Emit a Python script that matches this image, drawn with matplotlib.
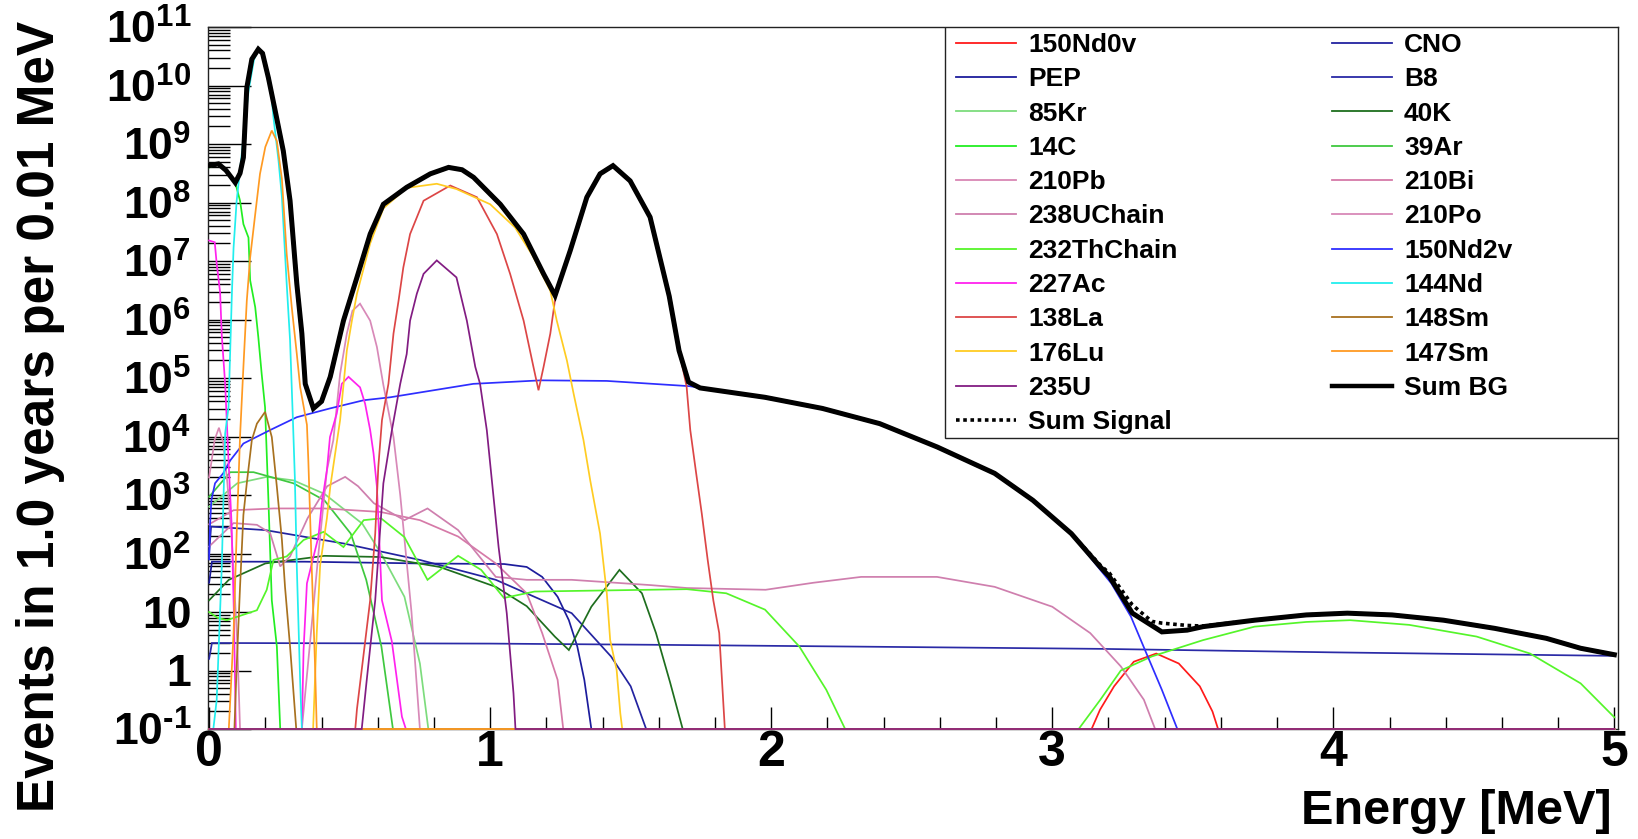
import numpy as np
import matplotlib
matplotlib.use("Agg")
import matplotlib.pyplot as plt
from matplotlib.ticker import FixedLocator, FixedFormatter, LogLocator, MultipleLocator, NullFormatter
from matplotlib.lines import Line2D
from matplotlib.patches import Rectangle

plt.rcParams['font.family'] = ['Liberation Sans', 'DejaVu Sans']
plt.rcParams['font.weight'] = 'bold'
plt.rcParams['mathtext.fontset'] = 'custom'
plt.rcParams['mathtext.rm'] = 'Liberation Sans:bold'
plt.rcParams['mathtext.it'] = 'Liberation Sans:bold'
plt.rcParams['mathtext.bf'] = 'Liberation Sans:bold'

# ---------------- data (energy in MeV, log10 of events per 0.01 MeV) ----------------
nd0v_E = [0, 3.14, 3.17, 3.22, 3.29, 3.37, 3.45, 3.525, 3.57, 3.59, 5.0]
nd0v_L = [-1, -1, -0.67, -0.27, 0.15, 0.29, 0.12, -0.27, -0.7, -1, -1]

cno_E = [0, 0.007, 0.2, 0.48, 0.75, 1.02, 1.29, 1.43, 1.5, 1.555, 5.0]
cno_L = [2.0, 2.46, 2.4, 2.17, 1.89, 1.55, 0.98, 0.24, -0.27, -1, -1]

pep_E = [0, 0.01, 0.34, 0.75, 1.05, 1.13, 1.185, 1.24, 1.28, 1.31, 1.335, 1.36, 5.0]
pep_L = [1.5, 1.86, 1.86, 1.83, 1.82, 1.77, 1.6, 1.26, 0.86, 0.41, -0.16, -1, -1]

b8_E = [0, 0.01, 1.0, 1.57, 2.5, 3.17, 4.0, 5.0]
b8_L = [0.2, 0.47, 0.46, 0.44, 0.40, 0.37, 0.31, 0.25]

kr85_E = [0, 0.1, 0.205, 0.3, 0.41, 0.545, 0.613, 0.695, 0.75, 0.78, 5.0]
kr85_L = [2.8, 3.2, 3.31, 3.25, 3.02, 2.51, 1.99, 1.26, 0.12, -1, -1]

k40_E = [0, 0.07, 0.2, 0.41, 0.61, 0.82, 1.02, 1.13, 1.23, 1.28, 1.36, 1.46, 1.54, 1.59, 1.64, 1.685, 5.0]
k40_L = [1.2, 1.55, 1.83, 1.96, 1.94, 1.77, 1.43, 1.1, 0.58, 0.35, 1.09, 1.72, 1.32, 0.64, -0.2, -1, -1]

c14_E = [0, 0.033, 0.06, 0.093, 0.11, 0.122, 0.14, 0.146, 0.164, 0.175, 0.187, 0.199, 0.211, 0.223, 0.241, 0.253, 5.0]
c14_L = [8.6, 8.66, 8.55, 8.34, 8.03, 7.63, 7.4, 6.67, 6.21, 5.70, 5.07, 4.5, 2.91, 1.2, 0.41, -1, -1]

ar39_E = [0, 0.075, 0.158, 0.3, 0.41, 0.504, 0.559, 0.613, 0.654, 5.0]
ar39_L = [2.97, 3.39, 3.39, 3.2, 2.91, 2.34, 1.55, 0.41, -1, -1]

pb210_E = [0, 0.02, 0.035, 0.05, 0.065, 0.08, 0.1, 0.11, 5.0]
pb210_L = [3.3, 3.95, 4.15, 3.9, 3.2, 2.3, 0.5, -1, -1]

bi210_E = [0, 0.087, 0.23, 0.41, 0.61, 0.75, 0.886, 1.02, 1.13, 1.185, 1.24, 1.26, 5.0]
bi210_L = [2.5, 2.74, 2.77, 2.77, 2.71, 2.57, 2.29, 1.83, 1.32, 0.64, -0.16, -1, -1]

u238_E = [0, 0.087, 0.17, 0.217, 0.253, 0.288, 0.35, 0.42, 0.484, 0.53, 0.586, 0.695, 0.777,
          0.886, 1.02, 1.13, 1.29, 1.57, 1.7, 1.98, 2.15, 2.32, 2.59, 2.795, 3.0, 3.135,
          3.244, 3.326, 3.366, 5.0]
u238_L = [2.12, 2.52, 2.49, 2.35, 1.78, 1.95, 2.6, 3.15, 3.31, 3.15, 2.86, 2.57, 2.77,
          2.40, 1.6, 1.55, 1.55, 1.46, 1.41, 1.38, 1.5, 1.6, 1.6, 1.43, 1.09, 0.64,
          0.07, -0.5, -1, -1]

po210_E = [0, 0.33, 0.389, 0.419, 0.442, 0.466, 0.49, 0.51, 0.537, 0.573, 0.597, 0.62, 0.656, 0.68, 0.72, 0.75, 5.0]
po210_L = [-1, -1, 2.0, 3.42, 3.94, 5.07, 5.76, 6.15, 6.27, 5.98, 5.53, 4.88, 3.99, 3.0, 1.0, -1, -1]

th232_E = [0, 0.03, 0.063, 0.17, 0.205, 0.229, 0.276, 0.336, 0.407, 0.478, 0.55, 0.612, 0.695,
           0.777, 0.886, 0.968, 1.049, 1.158, 1.294, 1.7, 1.84, 1.978, 2.1, 2.196, 2.263,
           3.094, 3.171, 3.244, 3.354, 3.537, 3.72, 3.904, 4.06, 4.27, 4.51, 4.7, 4.88, 5.0]
th232_L = [1.0, 0.9, 0.86, 1.03, 1.38, 1.89, 1.95, 2.23, 2.37, 2.11, 2.57, 2.6, 2.28,
           1.55, 1.96, 1.72, 1.24, 1.35, 1.36, 1.39, 1.32, 1.04, 0.41, -0.33, -1,
           -1, -0.5, 0.0, 0.24, 0.52, 0.75, 0.83, 0.86, 0.78, 0.58, 0.29, -0.22, -0.8]

nd2v_E = [0, 0.003, 0.008, 0.021, 0.05, 0.075, 0.122, 0.217, 0.312, 0.43, 0.55, 0.644, 0.94,
          1.18, 1.415, 1.71, 1.978, 2.182, 2.386, 2.591, 2.795, 2.931, 3.068, 3.171, 3.21,
          3.28, 3.33, 3.39, 3.445, 5.0]
nd2v_L = [1.9, 2.46, 2.91, 3.2, 3.37, 3.59, 3.88, 4.11, 4.33, 4.48, 4.62, 4.67, 4.90,
          4.96, 4.95, 4.86, 4.66, 4.47, 4.21, 3.81, 3.36, 2.90, 2.33, 1.72, 1.49,
          0.92, 0.35, -0.33, -1, -1]

ac227_E = [0, 0.02, 0.027, 0.039, 0.045, 0.057, 0.069, 0.08, 0.088, 0.095, 0.33, 0.336, 0.348,
           0.389, 0.401, 0.419, 0.43, 0.454, 0.472, 0.496, 0.537, 0.555, 0.573, 0.585, 0.597,
           0.615, 0.65, 0.686, 0.7, 5.0]
ac227_L = [7.35, 7.32, 6.95, 6.47, 5.73, 4.9, 3.59, 2.5, 1.0, -1, -1, 0.35, 1.49,
           2.29, 2.86, 3.42, 3.99, 4.39, 4.90, 5.02, 4.84, 4.56, 4.11, 3.71, 3.14,
           1.2, 0.5, -0.79, -1, -1]

nd144_E = [0, 0.015, 0.027, 0.045, 0.051, 0.057, 0.069, 0.075, 0.081, 0.087, 0.098, 0.116, 0.14,
           0.16, 0.175, 0.19, 0.217, 0.229, 0.247, 0.259, 0.276, 0.288, 0.298, 0.305, 0.312,
           0.324, 0.33, 5.0]
nd144_L = [-1, -1, -0.5, 1.77, 2.91, 4.05, 4.5, 5.47, 6.44, 7.23, 8.03, 8.83, 9.9,
           10.45, 10.6, 10.55, 10.08, 9.45, 8.71, 8.09, 6.61, 5.64, 4.3, 3.3, 1.77,
           -0.2, -1, -1]

sm148_E = [0, 0.09, 0.098, 0.11, 0.122, 0.134, 0.152, 0.17, 0.199, 0.223, 0.241, 0.259, 0.27, 0.288, 0.31, 5.0]
sm148_L = [-1, -1, 0.07, 1.43, 2.66, 3.2, 3.94, 4.22, 4.42, 3.99, 3.14, 2.23, 1.43, 0.41, -1, -1]

la138_E = [0, 0.52, 0.526, 0.573, 0.591, 0.602, 0.615, 0.638, 0.656, 0.674, 0.691, 0.715, 0.763,
           0.858, 0.953, 1.024, 1.071, 1.119, 1.154, 1.172, 1.19, 1.214, 1.237, 1.285, 1.344,
           1.391, 1.437, 1.498, 1.569, 1.637, 1.665, 1.699, 1.712, 1.733, 1.753, 1.774, 1.794,
           1.815, 1.835, 5.0]
la138_L = [-1, -1, -0.66, 1.2, 2.34, 3.48, 4.28, 4.90, 5.76, 6.32, 6.89, 7.46, 8.03,
           8.29, 8.09, 7.46, 6.78, 5.98, 5.19, 4.79, 5.19, 5.76, 6.55, 7.15, 8.07,
           8.47, 8.61, 8.35, 7.73, 6.38, 5.64, 4.85, 4.11, 3.37, 2.68, 1.89, 1.2,
           0.64, -1, -1]

lu176_E = [0, 0.37, 0.383, 0.395, 0.419, 0.431, 0.466, 0.49, 0.508, 0.526, 0.573, 0.62, 0.703,
           0.81, 0.88, 1.0, 1.089, 1.15, 1.214, 1.237, 1.273, 1.297, 1.332, 1.356, 1.391,
           1.415, 1.427, 1.45, 1.463, 1.47, 5.0]
lu176_L = [-1, -1, 0.64, 1.8, 2.6, 3.14, 4.28, 5.47, 5.98, 6.44, 7.3, 7.9, 8.25,
           8.32, 8.23, 7.97, 7.57, 7.1, 6.49, 5.98, 5.30, 4.73, 3.94, 3.25, 2.34,
           1.32, 0.52, 0.01, -0.73, -1, -1]

sm147_E = [0, 0.07, 0.087, 0.098, 0.11, 0.122, 0.134, 0.146, 0.164, 0.181, 0.2, 0.223, 0.241,
           0.259, 0.276, 0.294, 0.312, 0.324, 0.348, 0.353, 0.365, 0.377, 0.383, 5.0]
sm147_L = [-1, -1, 0.64, 2.34, 4.0, 5.19, 6.32, 7.06, 7.80, 8.49, 8.95, 9.23, 9.05,
           8.4, 7.12, 6.21, 5.41, 4.84, 4.2, 3.59, 1.77, 0.07, -1, -1]

u235_E = [0, 0.543, 0.56, 0.591, 0.62, 0.65, 0.68, 0.703, 0.715, 0.739, 0.763, 0.81, 0.88,
          0.917, 0.947, 0.964, 0.988, 1.006, 1.03, 1.059, 1.083, 1.09, 5.0]
u235_L = [-1, -1, -0.2, 1.2, 3.2, 4.1, 4.90, 5.41, 5.98, 6.44, 6.78, 7.01, 6.72,
          5.98, 5.19, 4.9, 4.11, 3.25, 2.11, 0.98, -0.39, -1, -1]

sumbg_E = [0.0, 0.033, 0.06, 0.093, 0.11, 0.122, 0.134, 0.152, 0.175, 0.19, 0.211, 0.235, 0.264,
           0.288, 0.312, 0.330, 0.342, 0.371, 0.40, 0.431, 0.478, 0.526, 0.573, 0.620, 0.703,
           0.787, 0.852, 0.9, 0.941, 1.036, 1.119, 1.19, 1.231, 1.285, 1.344, 1.391, 1.437,
           1.498, 1.569, 1.637, 1.672, 1.706, 1.747, 1.978, 2.182, 2.386, 2.591, 2.795, 2.931,
           3.068, 3.171, 3.204, 3.285, 3.39, 3.48, 3.537, 3.72, 3.904, 4.05, 4.209, 4.392,
           4.575, 4.758, 4.88, 5.0]
sumbg_L = [8.63, 8.66, 8.55, 8.34, 8.5, 8.77, 9.96, 10.45, 10.62, 10.55, 10.13, 9.57, 8.88,
           8.03, 6.61, 5.76, 4.9, 4.48, 4.6, 5.02, 5.98, 6.72, 7.46, 7.97, 8.26,
           8.49, 8.60, 8.56, 8.43, 7.97, 7.46, 6.78, 6.41, 7.18, 8.09, 8.49, 8.63,
           8.37, 7.75, 6.4, 5.47, 4.93, 4.83, 4.67, 4.48, 4.22, 3.82, 3.37, 2.91,
           2.34, 1.77, 1.60, 0.98, 0.66, 0.69, 0.75, 0.86, 0.95, 0.98, 0.95, 0.86,
           0.72, 0.55, 0.38, 0.27]

sumsig_E = [0.0, 0.033, 0.06, 0.093, 0.11, 0.122, 0.134, 0.152, 0.175, 0.19, 0.211, 0.235, 0.264,
            0.288, 0.312, 0.330, 0.342, 0.371, 0.40, 0.431, 0.478, 0.526, 0.573, 0.620, 0.703,
            0.787, 0.852, 0.9, 0.941, 1.036, 1.119, 1.19, 1.231, 1.285, 1.344, 1.391, 1.437,
            1.498, 1.569, 1.637, 1.672, 1.706, 1.747, 1.978, 2.182, 2.386, 2.591, 2.795, 2.931,
            3.068, 3.171, 3.204, 3.285, 3.354, 3.39, 3.48, 3.537, 3.72, 3.904, 4.05, 4.209, 4.392,
            4.575, 4.758, 4.88, 5.0]
sumsig_L = [8.63, 8.66, 8.55, 8.34, 8.5, 8.77, 9.96, 10.45, 10.62, 10.55, 10.13, 9.57, 8.88,
            8.03, 6.61, 5.76, 4.9, 4.48, 4.6, 5.02, 5.98, 6.72, 7.46, 7.97, 8.26,
            8.49, 8.60, 8.56, 8.43, 7.97, 7.46, 6.78, 6.41, 7.18, 8.09, 8.49, 8.63,
            8.37, 7.75, 6.4, 5.47, 4.93, 4.83, 4.67, 4.48, 4.22, 3.82, 3.37, 2.91,
            2.34, 1.8, 1.66, 1.12, 0.84, 0.81, 0.77, 0.76, 0.86, 0.95, 0.98, 0.95, 0.86,
            0.72, 0.55, 0.38, 0.27]

ytick_values = [1e-1, 1, 10, 1e2, 1e3, 1e4, 1e5, 1e6, 1e7, 1e8, 1e9, 1e10, 1e11]
ytick_labels = [r'$10^{\text{-}1}$', '1', '10', r'$10^{2}$', r'$10^{3}$', r'$10^{4}$', r'$10^{5}$',
                r'$10^{6}$', r'$10^{7}$', r'$10^{8}$', r'$10^{9}$', r'$10^{10}$', r'$10^{11}$']
xtick_values = [0, 1, 2, 3, 4, 5]

# drawing order (ROOT order), label, colour, data
series = [
    ("150Nd0v", "#ff1a1a", nd0v_E, nd0v_L),
    ("CNO", "#2323a0", cno_E, cno_L),
    ("PEP", "#1c1c9c", pep_E, pep_L),
    ("B8", "#2a2aa6", b8_E, b8_L),
    ("85Kr", "#7ddc7d", kr85_E, kr85_L),
    ("40K", "#1e6e1e", k40_E, k40_L),
    ("14C", "#22ee22", c14_E, c14_L),
    ("39Ar", "#3fc83f", ar39_E, ar39_L),
    ("210Pb", "#d987b4", pb210_E, pb210_L),
    ("210Bi", "#d67aa8", bi210_E, bi210_L),
    ("238UChain", "#cf7fae", u238_E, u238_L),
    ("210Po", "#d889b8", po210_E, po210_L),
    ("232ThChain", "#55f52a", th232_E, th232_L),
    ("150Nd2v", "#2e2eff", nd2v_E, nd2v_L),
    ("227Ac", "#ff22ee", ac227_E, ac227_L),
    ("144Nd", "#22eeee", nd144_E, nd144_L),
    ("138La", "#dc4646", la138_E, la138_L),
    ("148Sm", "#a8711f", sm148_E, sm148_L),
    ("176Lu", "#ffcc22", lu176_E, lu176_L),
    ("147Sm", "#ff9a22", sm147_E, sm147_L),
    ("235U", "#821c82", u235_E, u235_L),
]

fig = plt.figure(figsize=(16.38, 8.39), dpi=100)
ax = fig.add_axes([208 / 1638, 1 - 729 / 839, 1410 / 1638, 702 / 839])
ax.set_yscale('log')
ax.set_xlim(-0.004, 5.013)
ax.set_ylim(0.1, 1e11)

handles = {}
for label, color, E, L in series:
    y = np.clip(10 ** np.asarray(L, dtype=float), 0.1, None)
    ln, = ax.plot(E, y, color=color, lw=1.25, clip_on=False, zorder=3, solid_joinstyle='miter')
    handles[label] = ln

sig, = ax.plot(sumsig_E, np.clip(10 ** np.asarray(sumsig_L), 0.1, None), color='black',
               lw=2.6, ls=(0, (1.0, 1.0)), zorder=4)
bg, = ax.plot(sumbg_E, np.clip(10 ** np.asarray(sumbg_L), 0.1, None), color='black',
              lw=3.6, zorder=5, solid_joinstyle='miter')
handles["Sum Signal"] = sig
handles["Sum BG"] = bg

# axes styling (ROOT-like)
for s in ax.spines.values():
    s.set_linewidth(1.0)
    s.set_color('#222222')
    s.set_zorder(2)
ax.yaxis.set_major_locator(FixedLocator(ytick_values))
ax.yaxis.set_major_formatter(FixedFormatter(ytick_labels))
ax.yaxis.set_minor_locator(LogLocator(base=10, subs=np.arange(2, 10), numticks=100))
ax.yaxis.set_minor_formatter(NullFormatter())
ax.xaxis.set_major_locator(FixedLocator(xtick_values))
ax.xaxis.set_minor_locator(MultipleLocator(0.2))
ax.tick_params(axis='y', which='major', direction='in', length=31, width=1.0, pad=12,
               labelsize=32, left=True, right=False)
ax.tick_params(axis='y', which='minor', direction='in', length=16, width=1.0, left=True, right=False)
ax.tick_params(axis='x', which='major', direction='in', length=16, width=1.0, pad=1,
               labelsize=36, bottom=True, top=False)
ax.tick_params(axis='x', which='minor', direction='in', length=8.5, width=1.0, bottom=True, top=False)
for t in ax.get_xticklabels() + ax.get_yticklabels():
    t.set_fontweight('bold')

ax.set_xlabel('Energy [MeV]', fontsize=35, fontweight='bold', loc='right')
ax.xaxis.set_label_coords((1612 - 208) / 1410, (729 - 789) / 702)
ax.set_ylabel('Events in 1.0 years per 0.01 MeV', fontsize=37, fontweight='bold', loc='top')
ax.yaxis.set_label_coords((65 - 208) / 1410, (729 - 21) / 702)

# legend: frame + two columns
ax.add_patch(Rectangle((0.5227, 0.4145), 0.4773, 0.5855, transform=ax.transAxes,
                       facecolor='white', edgecolor='#222222', lw=1.0, zorder=6))
col1 = ["150Nd0v", "PEP", "85Kr", "14C", "210Pb", "238UChain", "232ThChain", "227Ac",
        "138La", "176Lu", "235U", "Sum Signal"]
col2 = ["CNO", "B8", "40K", "39Ar", "210Bi", "210Po", "150Nd2v", "144Nd", "148Sm",
        "147Sm", "Sum BG"]


def leg_handle(name):
    h = handles[name]
    if name == "Sum BG":
        return Line2D([], [], color='black', lw=3.2)
    if name == "Sum Signal":
        return Line2D([], [], color='black', lw=2.6, ls=(0, (1.0, 1.0)))
    return Line2D([], [], color=h.get_color(), lw=1.3)


legkw = dict(frameon=False, handlelength=2.28, handletextpad=0.45,
             labelspacing=0.39, borderpad=0, borderaxespad=0, prop={'weight': 'bold', 'size': 19})
leg1 = ax.legend([leg_handle(n) for n in col1], col1, loc='upper left',
                 bbox_to_anchor=((956 - 208) / 1410, (729 - 33) / 702), **legkw)
leg1.set_zorder(7)
ax.add_artist(leg1)
leg2 = ax.legend([leg_handle(n) for n in col2], col2, loc='upper left',
                 bbox_to_anchor=((1332 - 208) / 1410, (729 - 33) / 702), **legkw)
leg2.set_zorder(7)

fig.savefig('out.png', dpi=100)
